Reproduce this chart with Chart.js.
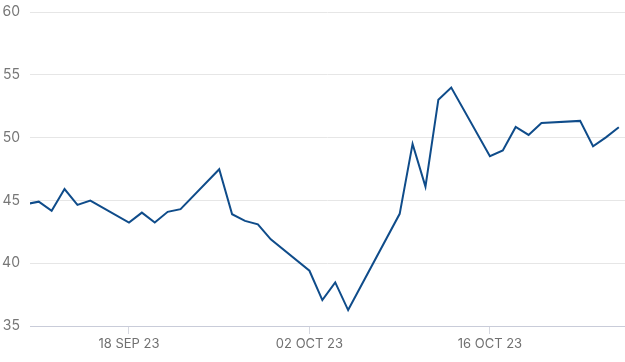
<!DOCTYPE html>
<html>
<head>
<meta charset="utf-8">
<script src="https://cdn.jsdelivr.net/npm/chart.js@4/dist/chart.umd.min.js"></script>
<style>
  html, body { margin: 0; padding: 0; background: #fff; }
  #wrap { width: 625px; height: 362px; }
</style>
</head>
<body>
<div id="wrap"><canvas id="lineChart"></canvas></div>
<script>
// trading days shown in the chart
var dates = ['2023-09-08', '2023-09-11', '2023-09-12', '2023-09-13', '2023-09-14', '2023-09-15',
             '2023-09-18', '2023-09-19', '2023-09-20', '2023-09-21', '2023-09-22',
             '2023-09-25', '2023-09-26', '2023-09-27', '2023-09-28', '2023-09-29',
             '2023-10-02', '2023-10-03', '2023-10-04', '2023-10-05',
             '2023-10-09', '2023-10-10', '2023-10-11', '2023-10-12', '2023-10-13',
             '2023-10-16', '2023-10-17', '2023-10-18', '2023-10-19', '2023-10-20',
             '2023-10-23', '2023-10-24', '2023-10-25', '2023-10-26'];
var values = [44.3, 44.9, 44.17, 45.9, 44.64, 44.98,
              43.24, 44.03, 43.24, 44.09, 44.3,
              47.48, 43.9, 43.37, 43.1, 41.9,
              39.4, 37.06, 38.47, 36.27,
              43.93, 49.5, 46.1, 53.02, 53.99,
              48.52, 48.97, 50.85, 50.21, 51.17,
              51.33, 49.31, 50.02, 50.82];
var tickDates = ['2023-09-18', '2023-10-02', '2023-10-16'];
var tickLabels = ['18 SEP 23', '02 OCT 23', '16 OCT 23'];
var yTicks = [35, 40, 45, 50, 55, 60];

var baseDay = Date.parse('2023-09-18');
function dayNum(d) { return (Date.parse(d) - baseDay) / 86400000; }

var points = dates.map(function (d, i) { return { x: dayNum(d), y: values[i] }; });
var tickDays = tickDates.map(dayNum);

var ctx = document.getElementById('lineChart').getContext('2d');
var myLineChart = new Chart(ctx, {
    type: 'line',
    data: {
        datasets: [{
            data: points,
            borderColor: '#0f4c8a',
            borderWidth: 2,
            pointRadius: 0,
            tension: 0
        }]
    },
    options: {
        responsive: true,
        maintainAspectRatio: false,
        animation: false,
        layout: { padding: { top: 12, right: 0, left: 0, bottom: 0 } },
        plugins: {
            legend: { display: false },
            tooltip: { enabled: false }
        },
        scales: {
            x: {
                type: 'linear',
                min: -7.68,
                max: 38.48,
                afterBuildTicks: function (axis) {
                    axis.ticks = tickDays.map(function (v) { return { value: v }; });
                },
                afterFit: function (axis) {
                    axis.height = 36;
                    axis.paddingLeft = 0;
                    axis.paddingRight = 0;
                },
                grid: {
                    drawOnChartArea: false,
                    drawTicks: true,
                    tickLength: 8,
                    color: '#d6d8e0'
                },
                border: { display: true, color: '#c9ccd9', width: 1 },
                ticks: {
                    autoSkip: false,
                    maxRotation: 0,
                    padding: 2,
                    color: '#707070',
                    font: { family: 'Inter', size: 13 },
                    callback: function (value) {
                        var i = tickDays.indexOf(value);
                        return i >= 0 ? tickLabels[i] : '';
                    }
                }
            },
            y: {
                min: 35,
                max: 60,
                afterBuildTicks: function (axis) {
                    axis.ticks = yTicks.map(function (v) { return { value: v }; });
                },
                afterFit: function (axis) {
                    axis.width = 30;
                    axis.paddingTop = 0;
                    axis.paddingBottom = 0;
                },
                grid: {
                    color: '#e6e6e6',
                    drawTicks: false
                },
                border: { display: false },
                ticks: {
                    padding: 10,
                    color: '#777777',
                    font: { family: 'Inter', size: 14 }
                }
            }
        }
    }
});
</script>
</body>
</html>
